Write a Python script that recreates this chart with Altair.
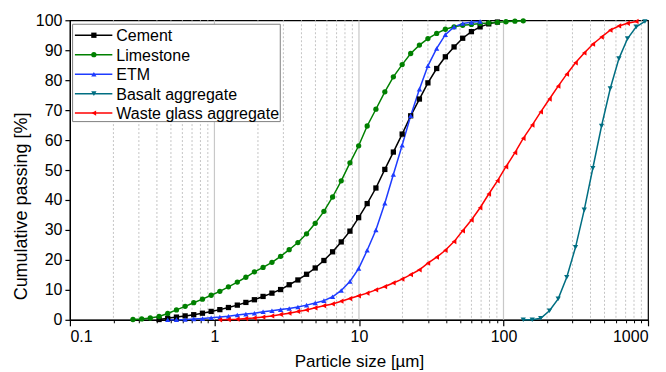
import altair as alt
import pandas as pd

SERIES = ["Cement", "Limestone", "ETM", "Basalt aggregate", "Waste glass aggregate"]
COLORS = ["#000000", "#008000", "#1E3CFF", "#006E82", "#FF0000"]
SHAPES = ["square", "circle", "triangle-up", "triangle-down", "triangle-left"]

# particle sizes (µm) of the measurement classes
SIZES = [0.273, 0.314, 0.360, 0.414, 0.475, 0.546, 0.627, 0.719, 0.826, 0.949,
         1.09, 1.25, 1.44, 1.65, 1.89, 2.17, 2.50, 2.87, 3.29, 3.78,
         4.34, 4.98, 5.72, 6.57, 7.54, 8.66, 9.95, 11.4, 13.1, 15.1,
         17.3, 19.9, 22.8, 26.2, 30.0, 34.5, 39.6, 45.5, 52.2, 60.0,
         68.9, 79.1, 90.8, 104, 120, 137, 158, 181, 208, 239,
         274, 315, 362, 415, 477, 548, 629, 722, 829, 952]

CEMENT = [0.1, 0.5, 0.9, 1.3, 1.7, 2.2, 2.8, 3.4, 4.1, 4.9, 5.8, 6.7, 7.8, 8.9,
          10.1, 11.7, 13.3, 15.2, 17.3, 19.8, 22.7, 26.0, 29.6, 34.1, 38.8,
          44.0, 50.2, 56.0, 62.0, 68.1, 73.7, 79.1, 83.9, 87.8, 91.1, 94.0,
          96.2, 97.8, 98.8, 99.4]
LIMESTONE = [0.1, 0.3, 0.6, 1.1, 2.1, 3.3, 4.5, 5.7, 6.9, 8.2, 9.5, 11.0, 12.6,
             14.2, 16.0, 17.5, 19.2, 21.2, 23.4, 25.8, 28.7, 32.2, 36.2, 41.0,
             46.4, 52.4, 58.1, 64.7, 70.3, 76.1, 81.1, 85.2, 88.9, 91.7, 93.9,
             95.6, 97.0, 97.8, 98.3, 98.6, 98.9, 99.1, 99.3, 99.5, 99.7, 99.8]
ETM = [0.0, 0.05, 0.1, 0.3, 0.4, 0.7, 0.9, 1.2, 1.6, 1.9, 2.2, 2.7, 3.0, 3.4,
       3.8, 4.3, 4.9, 5.6, 6.4, 7.7, 9.8, 12.8, 17.1, 23.2, 30.0, 38.9, 48.5,
       58.3, 68.1, 77.0, 84.8, 90.6, 95.2, 97.8, 98.9, 99.3, 99.6]
BASALT = [0.0, 0.0, 0.5, 3.0, 7.0, 14.2, 24.2, 36.7, 50.6, 64.7, 77.2, 87.2,
          93.9, 97.8, 99.6]
WASTE_GLASS = [0.0, 0.1, 0.2, 0.4, 0.6, 0.9, 1.3, 1.8, 2.2, 2.8, 3.3, 4.0, 4.7,
               5.3, 6.2, 7.1, 8.0, 8.9, 10.0, 11.1, 12.3, 13.6, 15.1, 16.7,
               18.9, 20.9, 23.2, 26.1, 29.7, 33.3, 37.4, 42.0, 46.4, 51.1,
               55.8, 60.6, 65.0, 69.4, 73.7, 78.0, 82.0, 85.8, 89.1, 92.0,
               94.4, 96.7, 98.1, 99.0, 99.6]

VALUES = [CEMENT, LIMESTONE, ETM, BASALT, WASTE_GLASS]
FIRST_SIZE = [0.414, 0.273, 0.475, 137, 1.09]

X_TICKS = [0.1, 1, 10, 100, 1000]
X_MINOR = [0.2, 0.3, 0.4, 0.5, 0.6, 0.7, 0.8, 0.9,
           2, 3, 4, 5, 6, 7, 8, 9,
           20, 30, 40, 50, 60, 70, 80, 90,
           200, 300, 400, 500, 600, 700, 800, 900]
X_MAJOR_GRID = [1, 10, 100]
Y_TICKS = [0, 10, 20, 30, 40, 50, 60, 70, 80, 90, 100]

rows = []
for k, (name, vals, first) in enumerate(zip(SERIES, VALUES, FIRST_SIZE)):
    i0 = SIZES.index(first)
    for n, v in enumerate(vals):
        rows.append({"series": name, "order": k, "size": SIZES[i0 + n], "passing": v})
df = pd.DataFrame(rows)
legend_df = pd.DataFrame({"series": SERIES})

FONT = "Liberation Sans"
xscale = alt.Scale(type="log", domain=[0.1, 1000], nice=False)
yscale = alt.Scale(domain=[0, 100], nice=False, zero=False)
cscale = alt.Scale(domain=SERIES, range=COLORS)
shscale = alt.Scale(domain=SERIES, range=SHAPES)
legy = alt.Scale(type="point", domain=SERIES, range=[15, 93], padding=0)

YAX = alt.Axis(values=Y_TICKS, title="Cumulative passing [%]",
               grid=False, tickSize=5, labelFontSize=16,
               titleFontSize=18, titleAngle=270, titleX=-48,
               titleY=186, titleBaseline="middle", labelPadding=3)

minor = alt.Chart(pd.DataFrame({"x": X_MINOR})).mark_rule(
    color="#c4c4c4", strokeDash=[2, 2], strokeWidth=1
).encode(
    x=alt.X("x:Q", scale=xscale,
            axis=alt.Axis(values=X_MINOR, labels=False, title=None, grid=False,
                          domain=False, tickSize=3, tickColor="#000000",
                          tickWidth=1, orient="bottom"))
)
major = alt.Chart(pd.DataFrame({"x": X_MAJOR_GRID})).mark_rule(
    color="#c8c8c8", strokeWidth=1.2
).encode(x=alt.X("x:Q", scale=xscale, axis=None))

base = alt.Chart(df)
lines = base.mark_line(strokeWidth=1.5).encode(
    x=alt.X("size:Q", scale=xscale,
            axis=alt.Axis(values=X_TICKS, format="~g", title="Particle size [µm]",
                          grid=False, tickSize=6, orient="bottom",
                          labelFontSize=16, titleFontSize=17, titlePadding=9,
                          labelPadding=3)),
    y=alt.Y("passing:Q", scale=yscale, axis=YAX),
    color=alt.Color("series:N", scale=cscale, legend=None),
    detail="series:N",
    order="size:Q",
)

point_layers = []
for name, shape in zip(SERIES, SHAPES):
    point_layers.append(
        base.transform_filter(alt.datum.series == name)
        .mark_point(filled=True, size=28, opacity=1, shape=shape)
        .encode(
            x=alt.X("size:Q", scale=xscale, axis=None),
            y=alt.Y("passing:Q", scale=yscale, axis=None),
            color=alt.Color("series:N", scale=cscale, legend=None),
        )
    )

# legend box drawn inside the plot, top-left
legend_box = alt.Chart(pd.DataFrame({"k": [0]})).mark_rect(
    fill="#ffffff", stroke="#808080", strokeWidth=1
).encode(x=alt.value(2.7), x2=alt.value(210.7), y=alt.value(4), y2=alt.value(101.5))
legend_lines = alt.Chart(legend_df).mark_rule(strokeWidth=1.5).encode(
    x=alt.value(5), x2=alt.value(42.5),
    y=alt.Y("series:N", scale=legy, axis=None),
    color=alt.Color("series:N", scale=cscale, legend=None),
)
legend_marks = alt.Chart(legend_df).mark_point(filled=True, size=28, opacity=1).encode(
    x=alt.value(24),
    y=alt.Y("series:N", scale=legy, axis=None),
    color=alt.Color("series:N", scale=cscale, legend=None),
    shape=alt.Shape("series:N", scale=shscale, legend=None),
)
legend_text = alt.Chart(legend_df).mark_text(
    align="left", baseline="middle", fontSize=16, font=FONT, color="#000000", dy=1
).encode(
    x=alt.value(46.5),
    y=alt.Y("series:N", scale=legy, axis=None),
    text="series:N",
)

chart = alt.layer(
    minor, major, lines, *point_layers,
    legend_box, legend_lines, legend_marks, legend_text
).resolve_scale(y="independent").resolve_axis(x="independent").properties(
    width=579, height=300,
    autosize=alt.AutoSizeParams(type="none"),
    padding={"left": 62, "top": 12, "right": 10, "bottom": 53},
).configure_view(stroke="#000000", strokeWidth=1.2).configure_axis(
    labelFont=FONT, titleFont=FONT, labelColor="#000000", titleColor="#000000",
    domainColor="#000000", domainWidth=1.2, tickColor="#000000", tickWidth=1.2,
    titleFontWeight="normal"
)

chart.save("out.html", embed_options={"renderer": "svg", "actions": False})
